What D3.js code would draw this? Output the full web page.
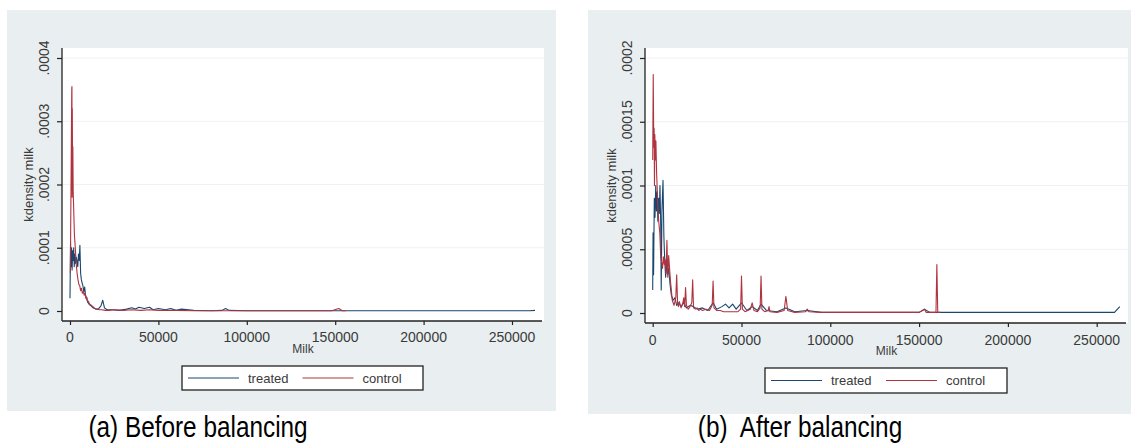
<!DOCTYPE html>
<html>
<head>
<meta charset="utf-8">
<script src="https://cdn.jsdelivr.net/npm/d3@7"></script>
<style>
  html, body { margin: 0; padding: 0; background: #ffffff; }
  svg { display: block; }
  text { font-family: "Liberation Sans", Arial, sans-serif; }
  text.caption { white-space: pre; }
</style>
</head>
<body>
<svg id="chart" width="1131" height="445"></svg>
<script>
// ---- data: kernel density of milk output, [milk, density] pairs ----
const milkTicks = [0, 50000, 100000, 150000, 200000, 250000];
const milkTickLabels = ["0", "50000", "100000", "150000", "200000", "250000"];

const densityTicksBefore = [0, 0.0001, 0.0002, 0.0003, 0.0004];
const densityLabelsBefore = ["0", ".0001", ".0002", ".0003", ".0004"];
const densityTicksAfter = [0, 0.00005, 0.0001, 0.00015, 0.0002];
const densityLabelsAfter = ["0", ".00005", ".0001", ".00015", ".0002"];

const seriesNames = ["treated", "control"];
const captions = ["(a) Before balancing", "(b)  After balancing"];

const treatedBefore = [
  [0, 0.00002], [300, 0.000107], [600, 0.00007], [900, 0.0001], [1200, 0.000065],
  [1500, 0.000095], [1800, 0.00008], [2100, 0.0001], [2400, 0.00007], [2800, 0.00009],
  [3200, 0.000075], [3600, 0.000085], [4000, 0.000078], [4400, 0.00007], [4800, 0.00009],
  [5200, 0.00008], [5600, 0.000104], [6000, 0.00006], [6400, 0.00005], [6800, 0.000045],
  [7300, 0.00004], [7800, 0.00003], [8300, 0.000038], [8800, 0.000025], [9300, 0.00002],
  [10000, 0.000014], [11000, 0.00001], [12000, 0.000008], [13000, 0.000005], [14500, 0.000003],
  [16000, 0.000003], [17500, 0.000008], [18500, 0.000017], [19500, 0.000005], [21000, 0.000002],
  [24000, 0.000002], [28000, 0.000001], [32000, 0.000003], [35000, 0.000005], [37000, 0.000003],
  [39000, 0.000006], [42000, 0.000004], [45000, 0.000006], [47000, 0.000002], [50000, 0.000004],
  [54000, 0.000002], [57000, 0.000004], [60000, 0.000001], [63000, 0.000003], [70000, 0.000001],
  [80000, 0.0000005], [86000, 0.000001], [88000, 0.000004], [90000, 0.000001], [100000, 0.0000005],
  [120000, 0.0000004], [140000, 0.0000004], [160000, 0.0000004], [180000, 0.0000004],
  [200000, 0.0000004], [220000, 0.0000004], [240000, 0.0000004], [260000, 0.0000004], [263000, 0.000001]
];

const controlBefore = [
  [200, 0.00006], [500, 0.00017], [800, 0.00028], [1000, 0.00035], [1100, 0.000355],
  [1200, 0.00018], [1300, 0.00032], [1450, 0.00022], [1600, 0.00026], [1800, 0.00019],
  [2100, 0.00016], [2500, 0.00012], [3000, 0.0001], [3500, 0.000075], [4000, 0.00006],
  [4500, 0.00005], [5000, 0.000042], [5500, 0.00004], [6000, 0.000032], [6500, 0.000036],
  [7000, 0.000028], [7500, 0.000031], [8000, 0.000025], [8500, 0.000028], [9000, 0.00002],
  [9500, 0.000022], [10000, 0.000016], [10500, 0.000015], [11000, 0.000011], [12000, 0.000009],
  [13000, 0.000007], [14000, 0.000004], [15000, 0.000003], [16500, 0.000002], [18000, 0.000002],
  [20000, 0.000001], [22000, 0.000001], [25000, 0.000002], [30000, 0.000001], [35000, 0.000002],
  [40000, 0.000001], [45000, 0.000002], [50000, 0.000001], [55000, 0.000001], [60000, 0.000001],
  [70000, 0.0000005], [80000, 0.0000005], [90000, 0.0000005], [100000, 0.0000005],
  [110000, 0.0000004], [120000, 0.0000004], [130000, 0.0000004], [140000, 0.0000004],
  [148000, 0.0000004], [152000, 0.000004], [154000, 0.0000004], [156000, 0.0000003]
];

const treatedAfter = [
  [0, 0.000018], [200, 0.000063], [500, 0.00003], [900, 0.00009], [1300, 0.000075],
  [1700, 0.0001], [2100, 0.00008], [2500, 0.000095], [2900, 0.000072], [3300, 0.00009],
  [3700, 0.000078], [4100, 0.0001], [4500, 0.00007], [4800, 0.000018], [5200, 0.00008],
  [5800, 0.000104], [6300, 0.00006], [6800, 0.00004], [7300, 0.000028], [7800, 0.00004],
  [8400, 0.00003], [9000, 0.000035], [9800, 0.000022], [10500, 0.000014], [11500, 0.00001],
  [12500, 0.000012], [13500, 0.000006], [14500, 0.000008], [16000, 0.000005], [17500, 0.000008],
  [19000, 0.000004], [21000, 0.000006], [23000, 0.000005], [25000, 0.000003], [28000, 0.000004],
  [31000, 0.000002], [34000, 0.000008], [36000, 0.000003], [39000, 0.000005], [41000, 0.000007],
  [43000, 0.000004], [45000, 0.000007], [47000, 0.000003], [50000, 0.000008], [53000, 0.000002],
  [56000, 0.000005], [59000, 0.000002], [61000, 0.000007], [64000, 0.000002], [70000, 0.000001],
  [75000, 0.000004], [80000, 0.000001], [87000, 0.000002], [95000, 0.0000005], [120000, 0.0000005],
  [150000, 0.0000005], [153000, 0.000003], [156000, 0.0000005], [180000, 0.0000005],
  [220000, 0.0000005], [260000, 0.0000005], [263000, 0.000005]
];

const controlAfter = [
  [0, 0.00012], [300, 0.000187], [600, 0.00013], [800, 0.000145], [1000, 0.0001],
  [1200, 0.00014], [1500, 0.00012], [1800, 0.000135], [2200, 0.00011], [2600, 0.000095],
  [3000, 0.00008], [3500, 0.00007], [4000, 0.000063], [4500, 0.000045], [5000, 0.00004],
  [5500, 0.000035], [6000, 0.000044], [6500, 0.000038], [7000, 0.000042], [7500, 0.000031],
  [8000, 0.000057], [8500, 0.000028], [9000, 0.000045], [9500, 0.000035], [10000, 0.000025],
  [10500, 0.000018], [11000, 0.00001], [11500, 0.000008], [12000, 0.000006], [12500, 0.000009],
  [13000, 0.000012], [13500, 0.00003], [14000, 0.000008], [14500, 0.000005], [15000, 0.000009],
  [16000, 0.000004], [17000, 0.000008], [17500, 0.000012], [18000, 0.000005], [18500, 0.00002],
  [19000, 0.000006], [20000, 0.000003], [21000, 0.000005], [22000, 0.000008], [22500, 0.000026],
  [23000, 0.000004], [24000, 0.000003], [25000, 0.000004], [26000, 0.000002], [27000, 0.000003],
  [28000, 0.000002], [30000, 0.000003], [32000, 0.000002], [33500, 0.000006], [34000, 0.000025],
  [34500, 0.000004], [36000, 0.000002], [38000, 0.000002], [40000, 0.000001], [44000, 0.000001],
  [48000, 0.000001], [49500, 0.000003], [50000, 0.000029], [50500, 0.000003], [52000, 0.000001],
  [55000, 0.000003], [56000, 0.000008], [57000, 0.000002], [59000, 0.000001], [60500, 0.000004],
  [61000, 0.000029], [61500, 0.000003], [63000, 0.000001], [65000, 0.000002], [65500, 0.000005],
  [66000, 0.000001], [70000, 0.0000005], [74000, 0.000002], [75000, 0.000013], [76000, 0.000002],
  [80000, 0.0000005], [86000, 0.000001], [87000, 0.000003], [88000, 0.000001], [95000, 0.0000005],
  [110000, 0.0000005], [130000, 0.0000005], [150000, 0.0000005], [152000, 0.000002],
  [153000, 0.000003], [154000, 0.0000005], [158000, 0.0000005], [159500, 0.0000005],
  [160000, 0.000038], [160500, 0.0000005], [162000, 0.0000005]
];

// ---- drawing ----
const svg = d3.select("#chart");
const PANEL_BG = "#e9eff1";
const TEXT = "#3a3a3a";
const COLORS = { treated: "#1a476f", control: "#b0343f" };

const panels = [
  {
    bg: { x: 7, y: 10, w: 549, h: 401 },
    plot: { left: 62, right: 544, top: 48, bottom: 321 },
    xRange: [70, 512], yRange: [311, 58],
    yTicks: densityTicksBefore, yLabels: densityLabelsBefore,
    treated: treatedBefore, control: controlBefore,
    yLabelX: 49, yTitleX: 33, xLabelY: 342, xTitleY: 353,
    legend: { x: 182, y: 366, w: 241, h: 24 },
    caption: { x: 198, y: 437 }, text: captions[0]
  },
  {
    bg: { x: 588, y: 10, w: 543, h: 404 },
    plot: { left: 645, right: 1128, top: 48, bottom: 323 },
    xRange: [652.7, 1096.7], yRange: [313, 58],
    yTicks: densityTicksAfter, yLabels: densityLabelsAfter,
    treated: treatedAfter, control: controlAfter,
    yLabelX: 632, yTitleX: 616, xLabelY: 345, xTitleY: 355,
    legend: { x: 765, y: 368, w: 242, h: 25 },
    caption: { x: 800, y: 437 }, text: captions[1]
  }
];

panels.forEach(p => {
  const g = svg.append("g");
  const x = d3.scaleLinear().domain([milkTicks[0], milkTicks[milkTicks.length - 1]]).range(p.xRange);
  const y = d3.scaleLinear().domain([p.yTicks[0], p.yTicks[p.yTicks.length - 1]]).range(p.yRange);

  // graph region and plot region
  g.append("rect").attr("x", p.bg.x).attr("y", p.bg.y).attr("width", p.bg.w).attr("height", p.bg.h)
    .attr("fill", PANEL_BG);
  g.append("rect").attr("x", p.plot.left).attr("y", p.plot.top)
    .attr("width", p.plot.right - p.plot.left).attr("height", p.plot.bottom - p.plot.top)
    .attr("fill", "#ffffff");

  // horizontal grid lines
  g.selectAll("line.grid").data(p.yTicks.slice(1)).join("line")
    .attr("class", "grid")
    .attr("x1", p.plot.left).attr("x2", p.plot.right)
    .attr("y1", d => y(d)).attr("y2", d => y(d))
    .attr("stroke", "#edf2f3").attr("stroke-width", 1.2);

  // density curves
  const line = d3.line().x(d => x(d[0])).y(d => y(d[1]));
  g.append("path").datum(p.treated).attr("d", line)
    .attr("fill", "none").attr("stroke", COLORS.treated).attr("stroke-width", 1.1)
    .attr("stroke-linejoin", "round");
  g.append("path").datum(p.control).attr("d", line)
    .attr("fill", "none").attr("stroke", COLORS.control).attr("stroke-width", 1.1)
    .attr("stroke-linejoin", "round");

  // y axis
  const yAxis = d3.axisLeft(y).tickValues(p.yTicks).tickSize(5).tickFormat(() => "");
  const ya = g.append("g").attr("transform", `translate(${p.plot.left},0)`).call(yAxis);
  ya.select(".domain").remove();
  ya.selectAll(".tick line").attr("stroke", "#222").attr("stroke-width", 1.2);
  g.append("line").attr("x1", p.plot.left).attr("x2", p.plot.left)
    .attr("y1", p.plot.top).attr("y2", p.plot.bottom)
    .attr("stroke", "#222").attr("stroke-width", 1.3);
  g.selectAll("text.ylab").data(p.yTicks).join("text")
    .attr("class", "ylab")
    .attr("transform", (d) => `translate(${p.yLabelX},${y(d)}) rotate(-90)`)
    .attr("text-anchor", "middle").attr("font-size", 14).attr("fill", TEXT)
    .text((d, i) => p.yLabels[i]);
  g.append("text")
    .attr("transform", `translate(${p.yTitleX},${(p.plot.top + p.plot.bottom) / 2}) rotate(-90)`)
    .attr("text-anchor", "middle").attr("font-size", 13).attr("fill", TEXT)
    .text("kdensity milk");

  // x axis
  const xAxis = d3.axisBottom(x).tickValues(milkTicks).tickSize(4).tickFormat(() => "");
  const xa = g.append("g").attr("transform", `translate(0,${p.plot.bottom})`).call(xAxis);
  xa.select(".domain").remove();
  xa.selectAll(".tick line").attr("stroke", "#222").attr("stroke-width", 1.2);
  g.append("line").attr("x1", p.plot.left).attr("x2", p.plot.right - 2)
    .attr("y1", p.plot.bottom).attr("y2", p.plot.bottom)
    .attr("stroke", "#222").attr("stroke-width", 1.3);
  g.selectAll("text.xlab").data(milkTicks).join("text")
    .attr("class", "xlab")
    .attr("x", d => x(d)).attr("y", p.xLabelY)
    .attr("text-anchor", "middle").attr("font-size", 14).attr("fill", TEXT)
    .text((d, i) => milkTickLabels[i]);
  g.append("text")
    .attr("x", (p.plot.left + p.plot.right) / 2).attr("y", p.xTitleY)
    .attr("text-anchor", "middle").attr("font-size", 12).attr("fill", TEXT)
    .text("Milk");

  // legend
  const L = p.legend;
  g.append("rect").attr("x", L.x).attr("y", L.y).attr("width", L.w).attr("height", L.h)
    .attr("fill", "#ffffff").attr("stroke", "#222").attr("stroke-width", 1.3);
  const cy = L.y + L.h / 2;
  const half = L.w / 2;
  seriesNames.forEach((name, i) => {
    const x0 = L.x + 6 + i * (half - 6);
    g.append("line").attr("x1", x0).attr("x2", x0 + 51).attr("y1", cy).attr("y2", cy)
      .attr("stroke", COLORS[name]).attr("stroke-width", 1.1);
    g.append("text").attr("x", x0 + 60).attr("y", cy + 4.5)
      .attr("font-size", 13).attr("fill", TEXT).text(name);
  });

  // caption, slightly condensed
  svg.append("text").attr("class", "caption")
    .attr("transform", `translate(${p.caption.x},${p.caption.y}) scale(0.84,1)`)
    .attr("text-anchor", "middle").attr("font-size", 29).attr("fill", "#000")
    .text(p.text);
});
</script>
</body>
</html>
